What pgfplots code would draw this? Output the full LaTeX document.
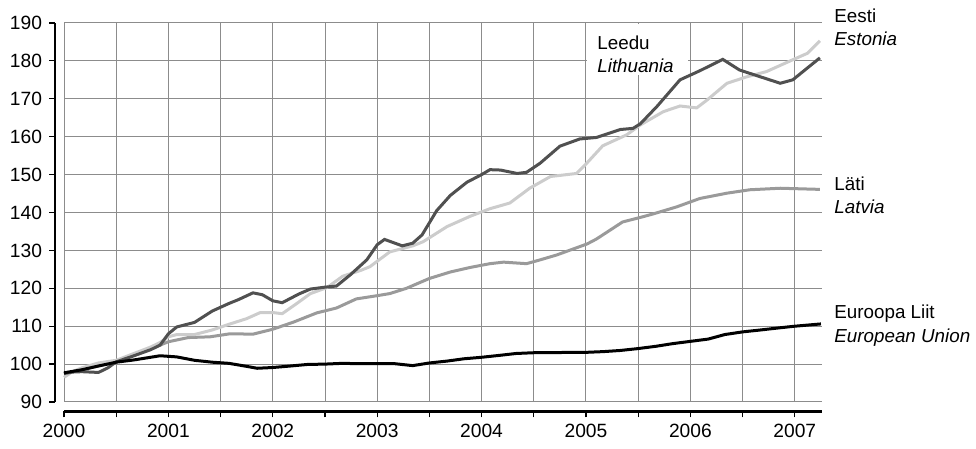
\documentclass[border=0pt]{standalone}
\usepackage{fontspec}
\setmainfont{Liberation Sans}
\usepackage{pgfplots}
\pgfplotsset{compat=1.18}
\definecolor{lt}{HTML}{505050}
\definecolor{ee}{HTML}{CCCCCC}
\definecolor{lv}{HTML}{9A9A9A}
\definecolor{gridc}{HTML}{8C8C8C}
\begin{document}
\begin{tikzpicture}[font=\fontsize{9.4}{12}\selectfont]
\useasboundingbox (-32pt,-23.5pt) rectangle (456pt,201pt);
\begin{axis}[
 at={(0,0)}, anchor=south west,
 scale only axis, width=379pt, height=189.5pt,
 xmin=2000, xmax=2007.26, ymin=90, ymax=190,
 axis x line*=bottom, axis y line*=left,
 axis x line shift=4.75pt, axis y line shift=4.5pt,
 axis line style={-, line width=1.2pt, black},
 xtick={2000,...,2007},
 minor xtick={2000.5,2001.5,2002.5,2003.5,2004.5,2005.5,2006.5},
 ytick={90,100,...,190},
 xmajorgrids=true, xminorgrids=true, ymajorgrids=true,
 grid style={gridc, line width=0.5pt},
 minor grid style={gridc, line width=0.5pt},
 tick align=outside, major tick length=3pt, minor tick length=3pt,
 tick style={black, line width=0.6pt},
 minor tick style={black, line width=0.6pt},
 /pgf/number format/assume math mode=true,
 /pgf/number format/1000 sep={},
 clip=false,
 every tick label/.append style={font=\fontsize{9.6}{12}\selectfont},
]
\fill[white] (axis cs:2005.01,189.85) rectangle (axis cs:2005.98,176.3);

% Latvia
\addplot[lv, line width=1.5pt] coordinates {
(2000.00,97.5) (2000.17,98.5) (2000.33,99.5) (2000.50,100.6) (2000.67,102.3)
(2000.83,104.0) (2001.00,105.9) (2001.19,107.0) (2001.40,107.2) (2001.59,108.0)
(2001.81,107.9) (2002.00,109.2) (2002.20,111.1) (2002.42,113.5) (2002.61,114.8)
(2002.80,117.2) (2003.01,118.1) (2003.12,118.6) (2003.28,120.0) (2003.50,122.6)
(2003.70,124.3) (2003.89,125.5) (2004.08,126.5) (2004.21,126.9) (2004.43,126.5)
(2004.56,127.5) (2004.72,128.8) (2005.01,131.7) (2005.10,133.0) (2005.35,137.5)
(2005.52,138.7) (2005.64,139.6) (2005.87,141.5) (2006.09,143.7) (2006.35,145.1)
(2006.57,146.0) (2006.86,146.4) (2007.24,146.1)
};
% Estonia
\addplot[ee, line width=1.5pt] coordinates {
(2000.00,96.5) (2000.08,98.0) (2000.17,99.0) (2000.33,100.3) (2000.50,101.0)
(2000.67,102.8) (2000.83,104.5) (2000.92,105.7) (2001.00,107.2) (2001.08,107.8)
(2001.25,107.8) (2001.42,109.0) (2001.58,110.5) (2001.75,112.0) (2001.88,113.6)
(2002.00,113.6) (2002.09,113.3) (2002.23,116.0) (2002.36,118.6) (2002.52,120.2)
(2002.67,123.2) (2002.84,124.7) (2002.93,125.7) (2003.12,129.6) (2003.34,131.2)
(2003.44,132.3) (2003.67,136.3) (2003.89,139.0) (2004.08,141.0) (2004.27,142.5)
(2004.46,146.4) (2004.66,149.5) (2004.91,150.3) (2004.99,152.5) (2005.16,157.6)
(2005.39,160.5) (2005.52,163.1) (2005.74,166.6) (2005.90,168.1) (2006.06,167.6)
(2006.16,169.7) (2006.35,174.1) (2006.54,175.8) (2006.73,177.2) (2006.98,180.3)
(2007.12,182.0) (2007.24,185.3)
};
% Lithuania
\addplot[lt, line width=1.5pt] coordinates {
(2000.00,97.5) (2000.08,97.9) (2000.17,98.0) (2000.33,97.8) (2000.42,99.0)
(2000.50,100.6) (2000.67,102.2) (2000.83,103.8) (2000.92,105.0) (2001.00,108.0)
(2001.08,109.8) (2001.25,111.0) (2001.42,114.0) (2001.58,116.0) (2001.67,117.0)
(2001.81,118.8) (2001.90,118.3) (2002.00,116.7) (2002.09,116.2) (2002.25,118.5)
(2002.36,119.8) (2002.50,120.3) (2002.61,120.6) (2002.74,123.5) (2002.90,127.5)
(2003.00,131.5) (2003.07,132.9) (2003.24,131.2) (2003.34,131.9) (2003.43,134.1)
(2003.57,140.5) (2003.70,144.5) (2003.86,148.0) (2004.00,150.0) (2004.08,151.3)
(2004.18,151.2) (2004.34,150.3) (2004.43,150.6) (2004.56,153.0) (2004.75,157.5)
(2004.94,159.4) (2005.10,159.8) (2005.33,161.9) (2005.45,162.2) (2005.52,163.4)
(2005.68,168.0) (2005.90,175.0) (2006.09,177.4) (2006.31,180.4) (2006.47,177.6)
(2006.67,175.8) (2006.86,174.1) (2006.98,175.0) (2007.24,180.8)
};
% European Union
\addplot[black, line width=1.5pt] coordinates {
(2000.00,97.7) (2000.17,98.5) (2000.33,99.5) (2000.50,100.5) (2000.67,101.1)
(2000.83,101.8) (2000.92,102.2) (2001.08,101.9) (2001.25,101.0) (2001.42,100.5)
(2001.58,100.2) (2001.75,99.4) (2001.85,98.9) (2002.00,99.1) (2002.17,99.5)
(2002.33,99.9) (2002.50,100.0) (2002.67,100.2) (2002.83,100.1) (2003.00,100.1)
(2003.17,100.1) (2003.34,99.6) (2003.50,100.3) (2003.67,100.8) (2003.83,101.4)
(2004.00,101.8) (2004.17,102.3) (2004.33,102.8) (2004.50,103.0) (2004.67,103.0)
(2004.83,103.1) (2005.00,103.1) (2005.17,103.3) (2005.33,103.6) (2005.50,104.1)
(2005.67,104.7) (2005.83,105.4) (2006.00,106.0) (2006.17,106.6) (2006.33,107.8)
(2006.50,108.5) (2006.67,109.0) (2006.83,109.5) (2007.00,110.0) (2007.25,110.6)
};

\node[anchor=base west, inner sep=0pt] at (axis cs:2005.105,182.9) {Leedu};
\node[anchor=base west, inner sep=0pt] at (axis cs:2005.105,176.9) {\itshape Lithuania};
\node[anchor=base west, inner sep=0pt] at (axis cs:2007.375,190.1) {Eesti};
\node[anchor=base west, inner sep=0pt] at (axis cs:2007.375,184.0) {\itshape Estonia};
\node[anchor=base west, inner sep=0pt] at (axis cs:2007.375,145.9) {Läti};
\node[anchor=base west, inner sep=0pt] at (axis cs:2007.375,139.8) {\itshape Latvia};
\node[anchor=base west, inner sep=0pt] at (axis cs:2007.375,111.9) {Euroopa Liit};
\node[anchor=base west, inner sep=0pt] at (axis cs:2007.375,105.7) {\itshape European Union};
\end{axis}
\end{tikzpicture}
\end{document}
